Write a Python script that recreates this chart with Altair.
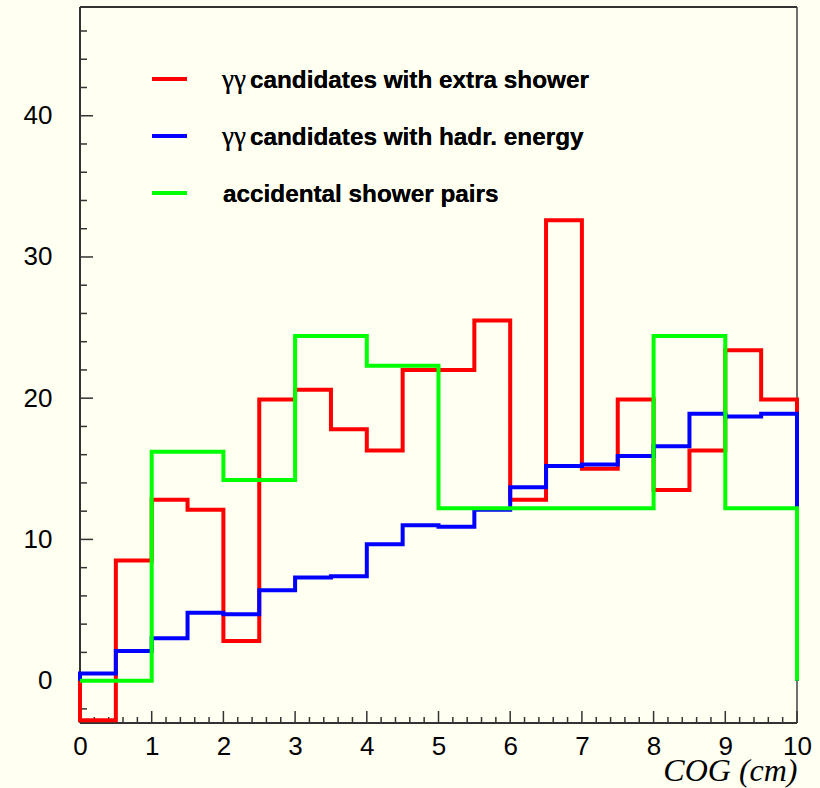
import altair as alt
import pandas as pd

# Bin edges (cm) and bin contents for the three COG distributions
bin_lo = [0.0, 0.5, 1.0, 1.5, 2.0, 2.5, 3.0, 3.5, 4.0, 4.5,
          5.0, 5.5, 6.0, 6.5, 7.0, 7.5, 8.0, 8.5, 9.0, 9.5]
x_end = 10.0

extra_shower = [-2.8, 8.5, 12.8, 12.1, 2.8, 19.9, 20.6, 17.8, 16.3, 22.0,
                22.0, 25.5, 12.8, 32.6, 15.0, 19.9, 13.5, 16.3, 23.4, 19.9]
hadr_energy = [0.5, 2.1, 3.0, 4.8, 4.7, 6.4, 7.3, 7.4, 9.65, 11.0,
               10.9, 12.1, 13.7, 15.2, 15.3, 15.9, 16.6, 18.9, 18.7, 18.9]
accidental = [0.0, 0.0, 16.2, 16.2, 14.2, 14.2, 24.4, 24.4, 22.3, 22.3,
              12.2, 12.2, 12.2, 12.2, 12.2, 12.2, 24.4, 24.4, 12.2, 12.2]

series_names = ["γγ candidates with extra shower",
                "γγ candidates with hadr. energy",
                "accidental shower pairs"]
series_values = [extra_shower, hadr_energy, accidental]
series_colors = ["#ff0000", "#0000ff", "#00ff00"]

y_major = [0, 10, 20, 30, 40]
y_minor = [-2, 2, 4, 6, 8, 12, 14, 16, 18, 22, 24, 26, 28,
           32, 34, 36, 38, 42, 44, 46]
x_major = [0, 1, 2, 3, 4, 5, 6, 7, 8, 9, 10]
x_minor = [round(i * 0.2, 1) for i in range(51) if i % 5 != 0]

X_DOM = [0, 10]
Y_DOM = [-3, 47.7]
W, H = 717, 716
BG = "#fffff2"
AXIS_COL = "#333333"
FRAME_COL = "#707070"

xs = alt.Scale(domain=X_DOM, nice=False, zero=False)
ys = alt.Scale(domain=Y_DOM, nice=False, zero=False)


def outline(values):
    # histogram outline: start at zero, step through bins, return to zero
    pts = [(bin_lo[0], 0.0)]
    pts += list(zip(bin_lo, values))
    pts.append((x_end, 0.0))
    return pd.DataFrame({"x": [p[0] for p in pts],
                         "y": [p[1] for p in pts],
                         "i": list(range(len(pts)))})


layers = []

# base layer carrying the labelled axes (ticks drawn separately, inward)
axis_df = pd.DataFrame({"x": [0.0, 10.0], "y": [0.0, 0.0]})
base = alt.Chart(axis_df).mark_point(opacity=0).encode(
    x=alt.X("x:Q", scale=xs, title="COG (cm)",
            axis=alt.Axis(values=x_major, format="d", ticks=False, domain=False,
                          grid=False, labelFontSize=26, labelFont="Liberation Sans",
                          labelColor="#000000", labelPadding=10,
                          titleFont="Liberation Serif", titleFontStyle="italic",
                          titleFontWeight="normal", titleFontSize=32,
                          titleColor="#000000", titleAnchor="end",
                          titlePadding=-4, labelFlush=False)),
    y=alt.Y("y:Q", scale=ys, title=None,
            axis=alt.Axis(values=y_major, format="d", ticks=False, domain=False,
                          grid=False, labelFontSize=26, labelFont="Liberation Sans",
                          labelColor="#000000", labelPadding=28)),
)
layers.append(base)

# frame
layers.append(alt.Chart(axis_df).mark_rule(color=FRAME_COL, strokeWidth=2).encode(
    x=alt.value(W), y=alt.value(0), y2=alt.value(H)))
layers.append(alt.Chart(axis_df).mark_rule(color=AXIS_COL, strokeWidth=2).encode(
    x=alt.value(0), x2=alt.value(W), y=alt.value(0)))
layers.append(alt.Chart(axis_df).mark_rule(color=AXIS_COL, strokeWidth=2).encode(
    x=alt.value(0), y=alt.value(0), y2=alt.value(H)))
layers.append(alt.Chart(axis_df).mark_rule(color=AXIS_COL, strokeWidth=2).encode(
    x=alt.value(0), x2=alt.value(W), y=alt.value(H)))


# inward ticks
def yticks(vals, length):
    return alt.Chart(pd.DataFrame({"v": vals})).mark_rule(
        color=AXIS_COL, strokeWidth=1.5).encode(
        y=alt.Y("v:Q", scale=ys), x=alt.value(0), x2=alt.value(length))


def xticks(vals, length):
    return alt.Chart(pd.DataFrame({"v": vals})).mark_rule(
        color=AXIS_COL, strokeWidth=1.5).encode(
        x=alt.X("v:Q", scale=xs), y=alt.value(H), y2=alt.value(H - length))


layers += [yticks(y_major, 13), yticks(y_minor, 7),
           xticks(x_major, 12), xticks(x_minor, 6)]

# histogram outlines: red, then blue, then green on top
for vals, col in zip(series_values, series_colors):
    layers.append(
        alt.Chart(outline(vals)).mark_line(
            interpolate="step-after", color=col, strokeWidth=4,
            strokeJoin="miter", strokeCap="butt"
        ).encode(x=alt.X("x:Q", scale=xs), y=alt.Y("y:Q", scale=ys),
                 order="i:Q")
    )

# legend
leg_line_y = [72, 129, 186]
for k, (name, col) in enumerate(zip(series_names, series_colors)):
    ly = leg_line_y[k]
    layers.append(alt.Chart(axis_df).mark_rule(color=col, strokeWidth=4).encode(
        x=alt.value(72), x2=alt.value(107), y=alt.value(ly)))
    if name.startswith("γγ"):
        layers.append(alt.Chart(axis_df).mark_text(
            text="γγ", font="Liberation Serif", fontSize=27, align="left",
            baseline="alphabetic", color="#000000").encode(
            x=alt.value(142), y=alt.value(ly + 9)))
        layers.append(alt.Chart(axis_df).mark_text(
            text=name[3:], font="Liberation Sans", fontWeight="bold", fontSize=24.3,
            align="left", baseline="alphabetic", color="#000000").encode(
            x=alt.value(170), y=alt.value(ly + 9)))
    else:
        layers.append(alt.Chart(axis_df).mark_text(
            text=name, font="Liberation Sans", fontWeight="bold", fontSize=24.3,
            align="left", baseline="alphabetic", color="#000000").encode(
            x=alt.value(143), y=alt.value(ly + 9)))

chart = alt.layer(*layers).properties(
    width=W, height=H,
    autosize=alt.AutoSizeParams(type="none"),
    padding={"left": 80, "top": 7, "right": 23, "bottom": 65},
    background=BG,
).configure_view(stroke=None, fill=BG)

chart.save("out.html", embed_options={"renderer": "svg", "actions": False})
